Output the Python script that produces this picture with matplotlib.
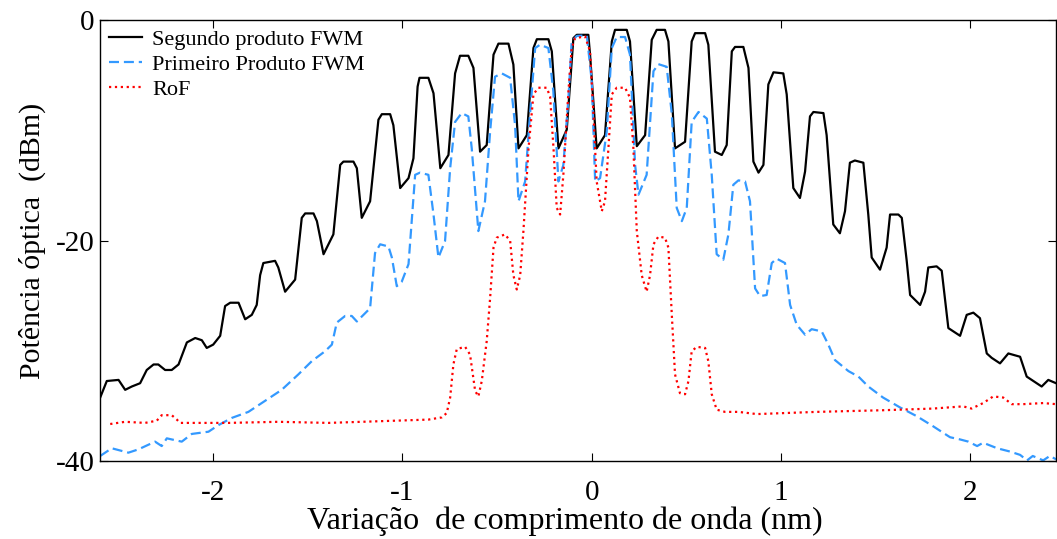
import matplotlib
matplotlib.use("Agg")
import matplotlib.pyplot as plt

plt.rcParams['font.family'] = ['Liberation Serif', 'DejaVu Serif']
plt.rcParams['axes.unicode_minus'] = False

# Segundo produto FWM (black)
seg_x = [-2.597, -2.562, -2.500, -2.465, -2.430, -2.386, -2.351, -2.315, -2.290, -2.254,
         -2.219, -2.183, -2.139, -2.095, -2.060, -2.034, -2.000, -1.963, -1.937, -1.910,
         -1.866, -1.831, -1.796, -1.770, -1.752, -1.735, -1.673, -1.656, -1.620, -1.567,
         -1.532, -1.514, -1.470, -1.452, -1.417, -1.365, -1.329, -1.312, -1.259, -1.241,
         -1.215, -1.171, -1.127, -1.109, -1.065, -1.048, -1.012, -0.968, -0.942, -0.920,
         -0.910, -0.863, -0.836, -0.800, -0.757, -0.722, -0.696, -0.652, -0.625, -0.590,
         -0.555, -0.519, -0.493, -0.440, -0.414, -0.387, -0.343, -0.308, -0.290, -0.229,
         -0.211, -0.176, -0.132, -0.097, -0.079, -0.018, -0.009, 0.026, 0.070, 0.106,
         0.123, 0.185, 0.202, 0.238, 0.282, 0.317, 0.343, 0.387, 0.405, 0.440,
         0.493, 0.528, 0.546, 0.599, 0.616, 0.651, 0.687, 0.713, 0.740, 0.757,
         0.801, 0.828, 0.854, 0.881, 0.907, 0.933, 0.960, 1.012, 1.030, 1.065,
         1.100, 1.127, 1.153, 1.171, 1.224, 1.241, 1.276, 1.311, 1.338, 1.364,
         1.390, 1.435, 1.461, 1.479, 1.523, 1.558, 1.576, 1.620, 1.638, 1.664,
         1.682, 1.735, 1.761, 1.778, 1.822, 1.849, 1.884, 1.946, 1.981, 2.016,
         2.051, 2.087, 2.113, 2.157, 2.201, 2.263, 2.298, 2.333, 2.377, 2.412, 2.453]
seg_y = [-34.2, -32.7, -32.6, -33.5, -33.2, -32.9, -31.7, -31.2, -31.2, -31.7,
         -31.7, -31.2, -29.2, -28.8, -29.0, -29.7, -29.4, -28.6, -25.9, -25.6,
         -25.6, -27.1, -26.7, -25.8, -23.1, -22.0, -21.8, -22.4, -24.6, -23.5,
         -17.9, -17.5, -17.5, -18.2, -21.2, -19.4, -13.1, -12.8, -12.8, -13.4,
         -17.9, -16.4, -9.0, -8.5, -8.5, -9.5, -15.2, -14.3, -12.5, -6.0,
         -5.2, -5.2, -6.6, -13.4, -12.2, -4.8, -3.2, -3.2, -4.3, -11.9,
         -11.3, -3.1, -2.1, -2.1, -4.0, -11.6, -10.4, -2.5, -1.7, -1.7,
         -2.8, -11.6, -9.9, -1.6, -1.3, -1.3, -3.1, -11.6, -10.4, -1.9,
         -0.85, -0.85, -1.9, -11.4, -10.4, -1.75, -0.85, -0.85, -1.9, -11.6,
         -11.0, -1.9, -1.15, -1.15, -2.2, -11.9, -12.2, -11.3, -2.8, -2.4,
         -2.4, -4.3, -12.8, -13.8, -13.1, -5.8, -4.7, -4.8, -6.7, -15.2,
         -16.1, -13.7, -8.7, -8.3, -8.4, -10.4, -18.5, -19.3, -17.3, -12.9,
         -12.7, -12.9, -17.6, -21.5, -22.6, -20.6, -17.6, -17.6, -17.9, -21.8,
         -24.9, -25.8, -24.6, -22.4, -22.3, -22.7, -27.9, -28.6, -26.7, -26.5,
         -27.0, -30.2, -30.6, -31.1, -30.2, -30.5, -32.3, -32.7, -33.2, -32.6, -32.9]

# Primeiro Produto FWM (blue dashed)
pri_x = [-2.597, -2.536, -2.448, -2.395, -2.307, -2.272, -2.245, -2.166, -2.113, -2.025,
         -1.972, -1.902, -1.814, -1.726, -1.638, -1.550, -1.479, -1.409, -1.373, -1.347,
         -1.303, -1.268, -1.241, -1.206, -1.171, -1.145, -1.118, -1.074, -1.056, -1.030,
         -1.004, -0.968, -0.933, -0.907, -0.863, -0.836, -0.810, -0.775, -0.748, -0.722,
         -0.687, -0.652, -0.634, -0.599, -0.564, -0.537, -0.511, -0.475, -0.431, -0.405,
         -0.387, -0.352, -0.326, -0.299, -0.273, -0.229, -0.203, -0.176, -0.150, -0.123,
         -0.106, -0.079, -0.026, 0.000, 0.018, 0.044, 0.079, 0.106, 0.132, 0.176,
         0.202, 0.229, 0.247, 0.290, 0.326, 0.352, 0.396, 0.423, 0.449, 0.476,
         0.502, 0.528, 0.564, 0.608, 0.634, 0.660, 0.695, 0.722, 0.748, 0.775,
         0.810, 0.836, 0.863, 0.889, 0.924, 0.951, 0.977, 1.021, 1.048, 1.083,
         1.127, 1.162, 1.215, 1.250, 1.285, 1.356, 1.409, 1.461, 1.539, 1.629,
         1.718, 1.803, 1.893, 1.946, 1.990, 2.036, 2.068, 2.142, 2.210, 2.263,
         2.300, 2.330, 2.385, 2.420, 2.453]
pri_y = [-39.5, -38.8, -39.2, -38.9, -38.2, -38.6, -37.9, -38.2, -37.5, -37.3,
         -36.7, -36.05, -35.5, -34.5, -33.5, -32.1, -30.9, -30.0, -29.4, -27.4,
         -26.8, -26.8, -27.3, -26.7, -26.1, -21.1, -20.3, -20.5, -21.5, -24.1,
         -23.7, -22.1, -14.0, -13.8, -14.0, -17.6, -21.5, -20.0, -13.4, -9.2,
         -8.4, -8.7, -11.6, -19.1, -16.4, -10.1, -5.1, -4.8, -5.2, -9.5,
         -16.4, -14.6, -8.5, -2.5, -2.2, -2.5, -6.4, -14.6, -13.1, -7.0,
         -1.9, -1.4, -1.35, -5.5, -14.6, -14.3, -10.1, -2.5, -1.5, -1.5,
         -3.1, -13.1, -15.8, -14.0, -4.6, -3.96, -4.2, -8.5, -17.0, -18.2,
         -17.0, -9.2, -8.3, -8.9, -14.0, -21.2, -21.7, -19.4, -14.9, -14.5,
         -14.6, -16.4, -24.3, -25.0, -24.9, -22.0, -21.6, -22.0, -25.8, -27.6,
         -28.5, -28.0, -28.2, -29.4, -30.8, -31.8, -32.3, -33.2, -34.2, -35.1,
         -35.9, -36.8, -37.8, -38.0, -38.2, -38.6, -38.3, -38.8, -39.1, -39.4,
         -39.9, -39.5, -39.9, -39.5, -39.8]

# RoF (red dotted)
rof_x = [-2.544, -2.465, -2.360, -2.298, -2.272, -2.219, -2.192, -2.175, -2.096, -1.920,
         -1.656, -1.391, -1.215, -1.039, -0.863, -0.792, -0.766, -0.748, -0.731, -0.713,
         -0.669, -0.643, -0.616, -0.599, -0.581, -0.555, -0.537, -0.519, -0.502, -0.458,
         -0.431, -0.414, -0.396, -0.378, -0.361, -0.334, -0.308, -0.282, -0.238, -0.220,
         -0.202, -0.185, -0.167, -0.150, -0.123, -0.106, -0.088, -0.035, -0.009, 0.009,
         0.026, 0.053, 0.070, 0.088, 0.106, 0.132, 0.176, 0.202, 0.220, 0.238,
         0.264, 0.290, 0.308, 0.326, 0.352, 0.387, 0.405, 0.423, 0.440, 0.466,
         0.493, 0.511, 0.528, 0.555, 0.599, 0.616, 0.634, 0.660, 0.704, 0.775,
         0.872, 1.189, 1.539, 1.803, 1.962, 2.007, 2.068, 2.121, 2.174, 2.219,
         2.279, 2.385, 2.453]
rof_y = [-36.6, -36.4, -36.5, -36.3, -35.8, -35.8, -36.2, -36.5, -36.5, -36.5,
         -36.4, -36.5, -36.4, -36.3, -36.2, -36.0, -35.6, -34.2, -31.2, -29.8,
         -29.6, -30.3, -33.6, -34.1, -32.7, -29.1, -25.2, -20.6, -19.7, -19.4,
         -20.0, -23.1, -24.4, -23.1, -19.1, -11.6, -6.7, -6.1, -6.1, -6.9,
         -11.6, -17.0, -17.6, -14.0, -6.4, -2.5, -1.6, -1.45, -2.8, -8.5,
         -14.6, -17.3, -16.4, -11.6, -6.7, -6.1, -6.1, -7.0, -11.6, -19.1,
         -23.1, -24.6, -23.1, -20.3, -19.6, -19.7, -20.6, -26.7, -32.1, -33.8,
         -33.9, -32.7, -30.0, -29.6, -29.7, -30.9, -33.9, -35.3, -35.5, -35.5,
         -35.7, -35.5, -35.35, -35.2, -35.0, -35.2, -34.7, -34.1, -34.2, -34.8,
         -34.8, -34.7, -34.8]

fig = plt.figure(figsize=(10.57, 5.39), dpi=100)
ax = fig.add_axes([0.0946, 0.1438, 0.9045, 0.8182])

ax.plot(seg_x, seg_y, color='black', lw=1.6, solid_joinstyle='round',
        label='Segundo produto FWM')
ax.plot(pri_x, pri_y, color='#3399ff', lw=1.6, ls='--', dashes=(4.5, 2.2),
        label='Primeiro Produto FWM')
ax.plot(rof_x, rof_y, color='red', lw=1.6, ls=':', label='RoF')

ax.set_xlim(-2.598, 2.453)
ax.set_ylim(-40, 0)
ax.set_xticks([-2, -1, 0, 1, 2])
ax.set_yticks([-40, -20, 0])
ax.tick_params(direction='in', top=True, right=True, length=6, width=0.8,
               labelsize=21)
ax.tick_params(axis='x', pad=13)
ax.tick_params(axis='y', pad=4)
for s in ax.spines.values():
    s.set_linewidth(1.0)

ax.set_xlabel('Variação  de comprimento de onda (nm)', fontsize=23, labelpad=1)
ax.xaxis.label.set_x(0.486)
ax.set_ylabel('Potência óptica  (dBm)', fontsize=21.5, labelpad=7)

ax.legend(loc='upper left', frameon=False, fontsize=16, handlelength=1.5,
          handletextpad=0.45, labelspacing=0.2, borderaxespad=0.2,
          borderpad=0.2)

fig.savefig('out.png', dpi=100)
